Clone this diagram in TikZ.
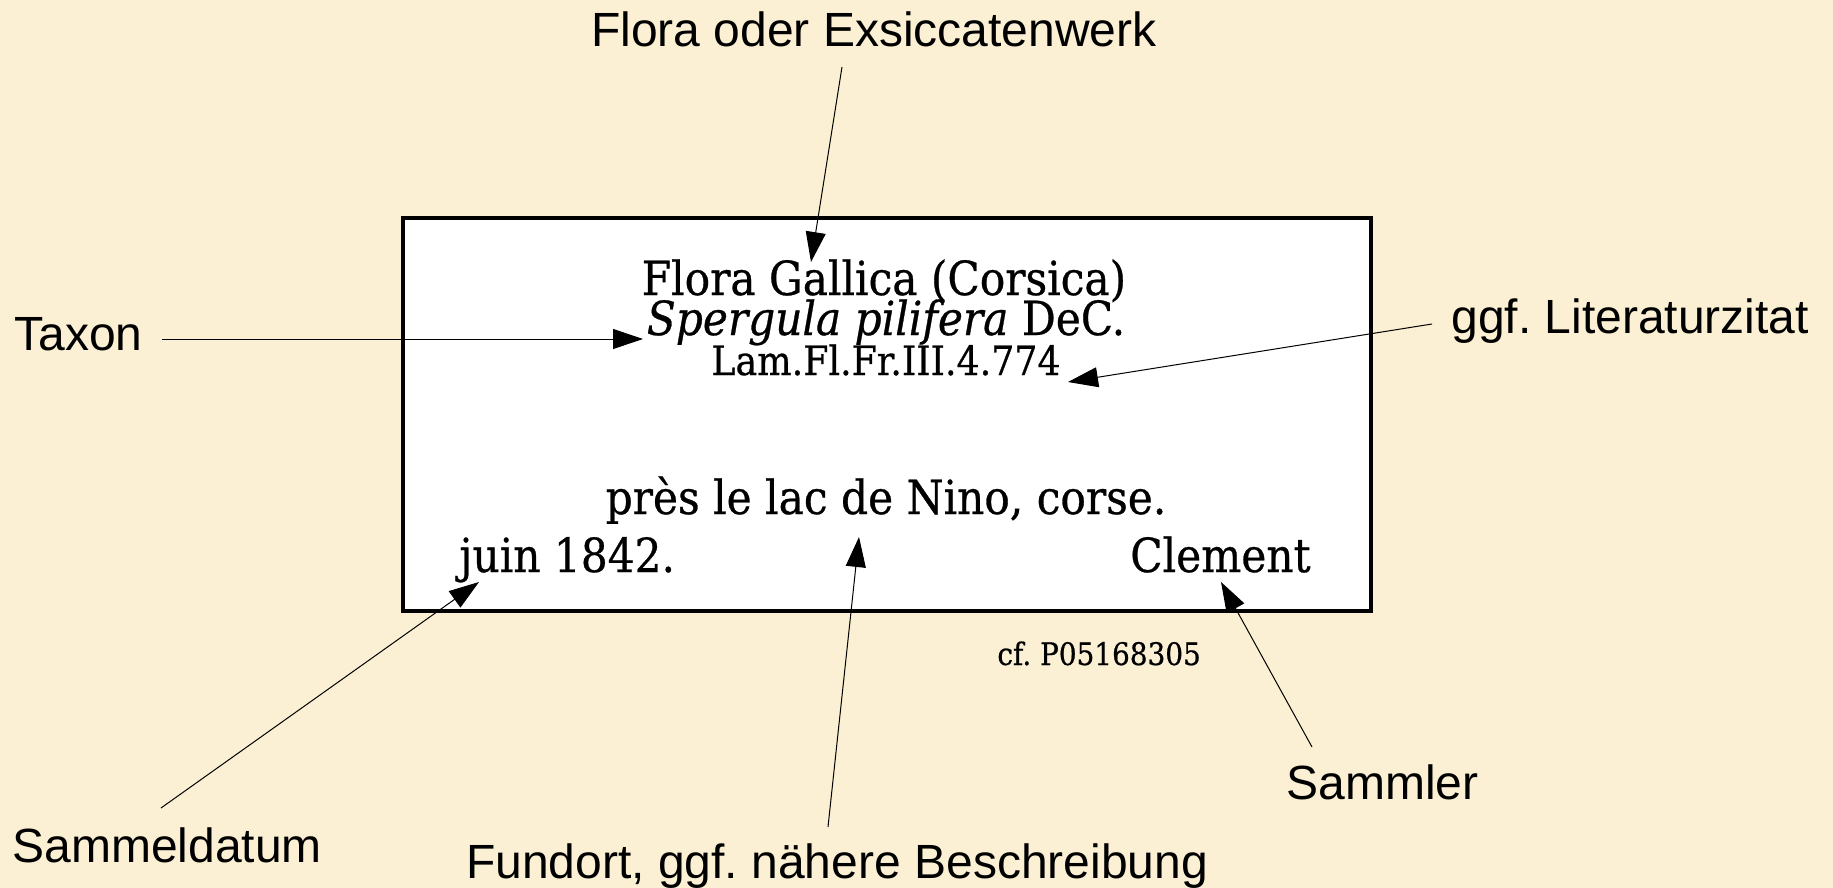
\documentclass[tikz,border=0pt]{standalone}
\usepackage{fontspec}
\setmainfont{DejaVu Serif}[FakeStretch=0.9, FakeBold=0.6]
\newfontfamily\labelfont{Liberation Sans}
\usetikzlibrary{arrows.meta}
\definecolor{paper}{RGB}{251,240,211}
\tikzset{
  lbl/.style={inner sep=0pt, font=\labelfont\fontsize{24}{28}\selectfont},
  sheet/.style={inner sep=0pt, font=\fontsize{23.5}{27}\selectfont},
  small/.style={inner sep=0pt, font=\fontsize{20.2}{24}\selectfont},
  tiny/.style={inner sep=0pt, font=\fontsize{15.5}{18}\selectfont},
  pointer/.style={line width=0.5pt, -{Triangle[length=15pt,width=10pt]}},
}
\begin{document}
\begin{tikzpicture}[x=0.5pt, y=-0.5pt]
  % background and bounding box
  \fill[paper] (0,0) rectangle (1833,888);
  \useasboundingbox (0,0) rectangle (1833,888);

  % the herbarium label
  \draw[line width=2pt, fill=white] (403,218) rectangle (1371,611);
  \node[sheet, anchor=base] (title) at (884,295) {Flora Gallica (Corsica)};
  \node[sheet, anchor=base] (taxname) at (886,335) {\textit{Spergula pilifera} DeC.};
  \node[small, anchor=base] (lit) at (886,375) {Lam.Fl.Fr.III.4.774};
  \node[sheet, anchor=base] (place) at (886,514) {près le lac de Nino, corse.};
  \node[sheet, anchor=base west] (date) at (459,572) {juin 1842.};
  \node[sheet, anchor=base east] (coll) at (1311,572) {Clement};
  \node[tiny, anchor=base west] (cf) at (997,665) {cf.\ P05168305};

  % annotation labels
  \node[lbl, anchor=base] (lFlora) at (874,47) {Flora oder Exsiccatenwerk};
  \node[lbl, anchor=base west] (lTaxon) at (14,350) {Taxon};
  \node[lbl, anchor=base west] (lLit) at (1451,333) {ggf.\ Literaturzitat};
  \node[lbl, anchor=base west] (lDate) at (12,862) {Sammeldatum};
  \node[lbl, anchor=base] (lPlace) at (837,878) {Fundort, ggf.\ nähere Beschreibung};
  \node[lbl, anchor=base west] (lColl) at (1286,799) {Sammler};

  % pointer ends
  \coordinate (aFloraS) at (842,67);   \coordinate (aFloraT) at (811,262);
  \coordinate (aTaxonS) at (162,339);  \coordinate (aTaxonT) at (643,339);
  \coordinate (aLitS)   at (1432,324); \coordinate (aLitT)   at (1068,382);
  \coordinate (aDateS)  at (161,808);  \coordinate (aDateT)  at (479,582);
  \coordinate (aPlaceS) at (828,827);  \coordinate (aPlaceT) at (859,537);
  \coordinate (aCollS)  at (1312,747); \coordinate (aCollT)  at (1221,582);

  \draw[pointer] (aFloraS) -- (aFloraT);
  \draw[pointer] (aTaxonS) -- (aTaxonT);
  \draw[pointer] (aLitS) -- (aLitT);
  \draw[pointer] (aDateS) -- (aDateT);
  \draw[pointer] (aPlaceS) -- (aPlaceT);
  \draw[pointer] (aCollS) -- (aCollT);
\end{tikzpicture}
\end{document}
